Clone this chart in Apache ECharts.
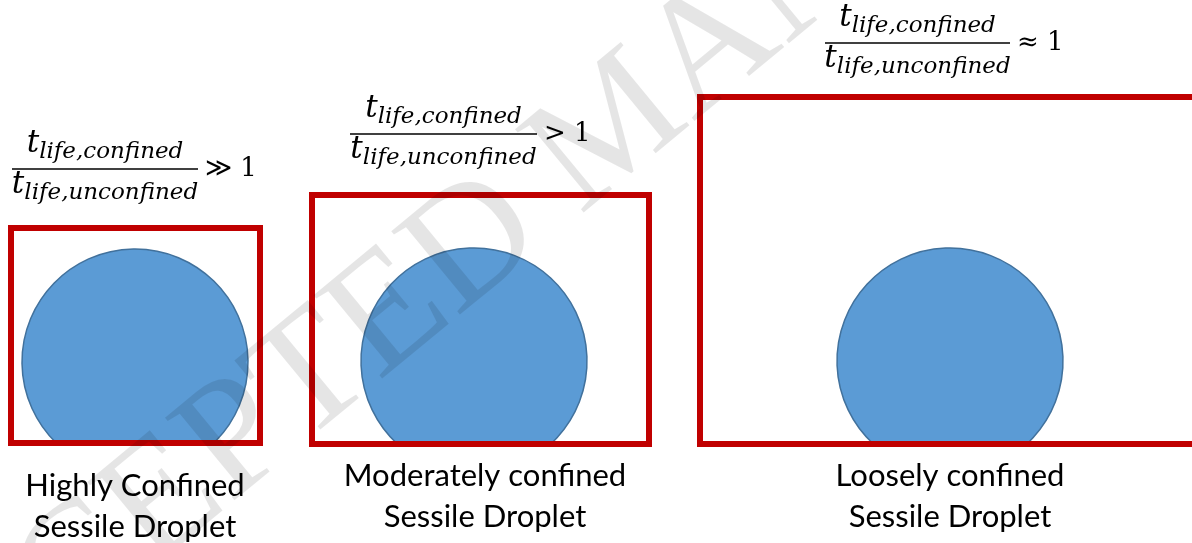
<!DOCTYPE html>
<html>
<head>
<meta charset="utf-8">
<script src="https://cdn.jsdelivr.net/npm/echarts@6/dist/echarts.min.js"></script>
<style>
  html, body { margin: 0; padding: 0; background: #fff; }
  #main { width: 1192px; height: 543px; }
</style>
</head>
<body>
<div id="main"></div>
<script>
// diagram units = pixels of the original figure, y grows downward
const regimes = ['Highly Confined\nSessile Droplet', 'Moderately confined\nSessile Droplet', 'Loosely confined\nSessile Droplet'];
const relations = ['≫ 1', '> 1', '≈ 1'];
const numSub = 'life,confined';
const denSub = 'life,unconfined';

// confinement boxes (left, top, right, bottom)
const boxLeft = [11, 312, 700];
const boxTop = [228, 195, 97];
const boxRight = [260, 649, 1195];
const boxBottom = [443, 444, 444];

// droplets (centre, radius)
const dropX = [135, 474, 950];
const dropY = [362, 361, 361];
const dropR = [113, 113, 113];

// fraction bars
const fracLeft = [12, 350, 825];
const fracRight = [198, 537, 1010];
const fracY = [169, 134, 43];

// caption centres (first line)
const labelX = [135, 485, 950];
const labelY = [486, 476, 476];

var myChart = echarts.init(document.getElementById('main'));

const mathFont = '"DejaVu Serif", serif';

function renderDroplet(params, api) {
    var c = api.coord([api.value(0), api.value(1)]);
    var r = api.size([api.value(2), 0])[0];
    var yb = api.coord([0, api.value(3)])[1];
    var dy = yb - c[1];
    var dx = Math.sqrt(r * r - dy * dy);
    var d = 'M' + (c[0] - dx) + ' ' + yb +
        ' A' + r + ' ' + r + ' 0 1 1 ' + (c[0] + dx) + ' ' + yb + ' Z';
    return {
        type: 'path',
        shape: { pathData: d },
        style: { fill: '#5B9BD5', stroke: '#41719C', lineWidth: 1.5 }
    };
}

function renderBox(params, api) {
    var p0 = api.coord([api.value(0), api.value(1)]);
    var p1 = api.coord([api.value(2), api.value(3)]);
    return {
        type: 'rect',
        shape: { x: p0[0], y: p0[1], width: p1[0] - p0[0], height: p1[1] - p0[1] },
        style: { fill: 'none', stroke: '#C00000', lineWidth: 6 }
    };
}

var rich = {
    t: { fontFamily: mathFont, fontStyle: 'italic', fontSize: 31, lineHeight: 40, color: '#000' },
    s: { fontFamily: mathFont, fontStyle: 'italic', fontSize: 23, lineHeight: 23, verticalAlign: 'bottom', color: '#000' }
};

function renderFraction(params, api) {
    var i = params.dataIndex;
    var a = api.coord([api.value(0), api.value(2)]);
    var b = api.coord([api.value(1), api.value(2)]);
    var cx = (a[0] + b[0]) / 2;
    return {
        type: 'group',
        children: [
            { type: 'line', shape: { x1: a[0], y1: a[1], x2: b[0], y2: b[1] },
              style: { stroke: '#000', lineWidth: 1.5 } },
            { type: 'text', x: cx, y: a[1] - 5,
              style: { text: '{t|t}{s|' + numSub + '}', rich: rich, align: 'center', verticalAlign: 'bottom' } },
            { type: 'text', x: cx, y: a[1] - 4,
              style: { text: '{t|t}{s|' + denSub + '}', rich: rich, align: 'center', verticalAlign: 'top' } },
            { type: 'text', x: b[0] + 7, y: a[1],
              style: { text: relations[i], font: '26px ' + mathFont, fill: '#000', align: 'left', verticalAlign: 'middle' } }
        ]
    };
}

function renderLabel(params, api) {
    var p = api.coord([api.value(0), api.value(1)]);
    return {
        type: 'text', x: p[0], y: p[1] - 20.5,
        style: {
            text: regimes[params.dataIndex], fill: '#000',
            font: '31px Lato', lineHeight: 41,
            align: 'center', verticalAlign: 'top'
        }
    };
}

myChart.setOption({
    animation: false,
    grid: { left: 0, right: 0, top: 0, bottom: 0 },
    xAxis: { type: 'value', min: 0, max: 1192, show: false },
    yAxis: { type: 'value', min: 0, max: 543, inverse: true, show: false },
    graphic: [{
        // journal watermark
        type: 'text', x: 618, y: 128, rotation: 39.5 * Math.PI / 180, z: 100,
        style: {
            text: 'ACCEPTED MANUSCRIPT', font: '165px "Liberation Serif"',
            fill: 'rgba(0,0,0,0.1)', align: 'center', verticalAlign: 'middle'
        }
    }],
    series: [
        { type: 'custom', name: 'droplets', clip: false, renderItem: renderDroplet,
          data: dropX.map((x, i) => [x, dropY[i], dropR[i], boxBottom[i]]) },
        { type: 'custom', name: 'boxes', clip: false, renderItem: renderBox,
          data: boxLeft.map((x, i) => [x, boxTop[i], boxRight[i], boxBottom[i]]) },
        { type: 'custom', name: 'ratios', clip: false, renderItem: renderFraction,
          data: fracLeft.map((x, i) => [x, fracRight[i], fracY[i]]) },
        { type: 'custom', name: 'captions', clip: false, renderItem: renderLabel,
          data: labelX.map((x, i) => [x, labelY[i]]) }
    ]
});
</script>
</body>
</html>
